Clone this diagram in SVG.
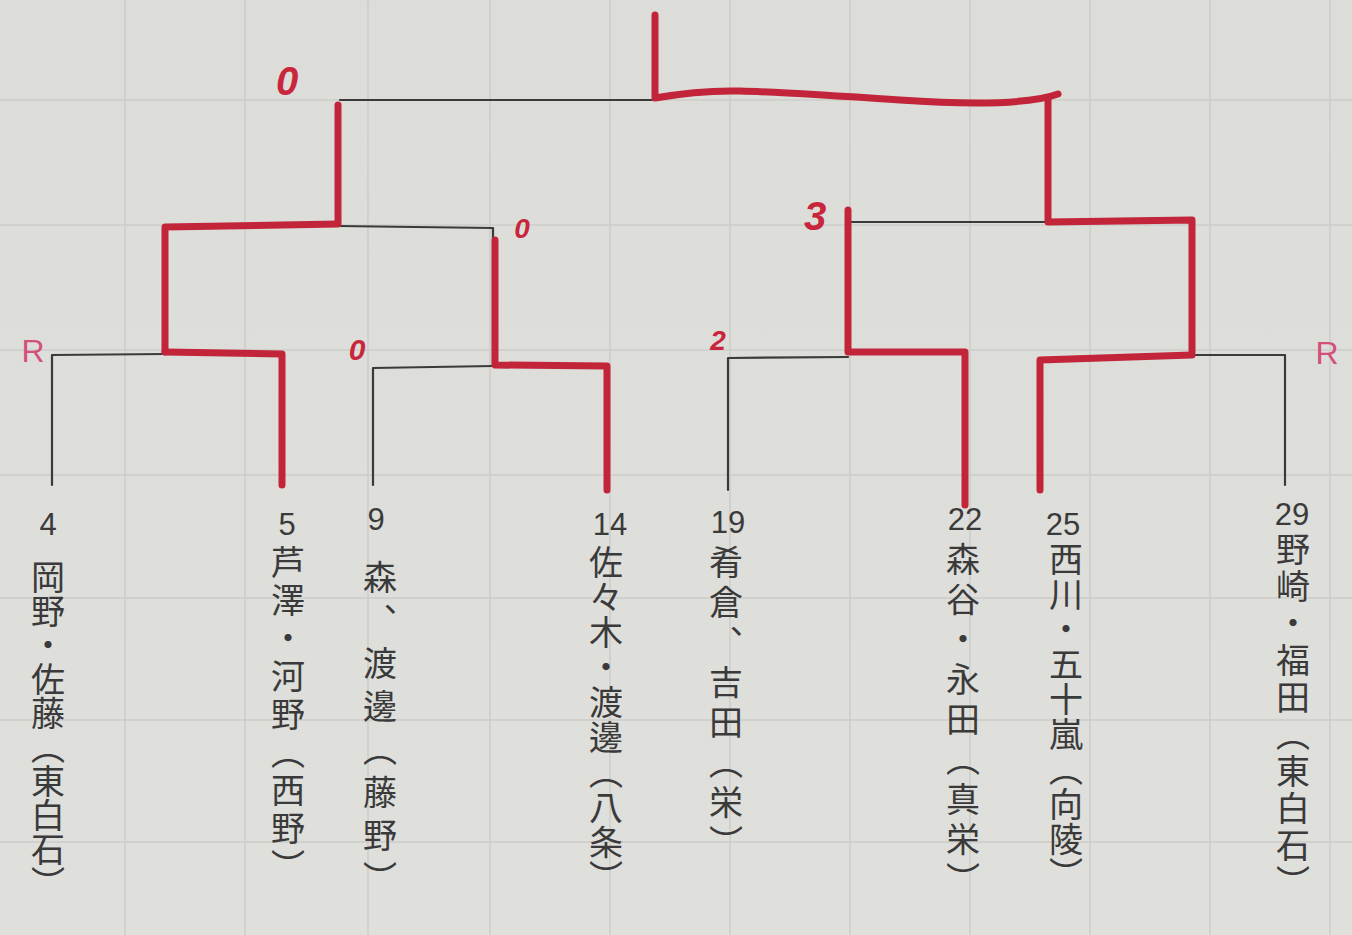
<svg xmlns="http://www.w3.org/2000/svg" width="1352" height="935" viewBox="0 0 1352 935">
<defs>
<linearGradient id="paper" x1="0" y1="0" x2="0" y2="1">
<stop offset="0" stop-color="#dcdcd9"/>
<stop offset="1" stop-color="#dfdfdc"/>
</linearGradient>
<style>
.grid{stroke:#cbcbc7;stroke-width:1.4;fill:none}
.blk{stroke:#3a3a3a;stroke-width:2.2;fill:none;stroke-linejoin:round;stroke-linecap:round}
.red{stroke:#c2243a;stroke-width:7;fill:none;stroke-linejoin:round;stroke-linecap:round}
.score{font-family:"Liberation Sans",sans-serif;font-weight:bold;font-style:italic;fill:#c8263c;text-anchor:middle}
.rlab{font-family:"Liberation Sans",sans-serif;fill:#d4507a;text-anchor:middle}
.num{font-family:"Liberation Sans",sans-serif;font-size:31px;fill:#3a3a3a;text-anchor:middle}
.name{font-family:"Noto Sans CJK JP","Noto Sans CJK SC",sans-serif;font-size:34px;fill:#3a3a3a;writing-mode:vertical-rl;text-orientation:mixed}
</style>
</defs>
<rect x="0" y="0" width="1352" height="935" fill="url(#paper)"/>
<g id="grid" class="grid">
<path d="M125,0V935M245,0V935M368,0V935M490,0V935M610,0V935M730,0V935M850,0V935M970,0V935M1090,0V935M1210,0V935M1330,0V935"/>
<path d="M0,100H1352M0,225H1352M0,350H1352M0,475H1352M0,598H1352M0,720H1352M0,842H1352"/>
</g>
<g id="connectors">
<path class="blk" d="M340,100 L655,100"/>
<path class="blk" d="M338,226 L493,228 L493,365"/>
<path class="blk" d="M52,485 L52,355 L165,354"/>
<path class="blk" d="M373,485 L373,368 L493,366"/>
<path class="blk" d="M848,222 L1048,222"/>
<path class="blk" d="M728,490 L728,358 L848,357"/>
<path class="blk" d="M1192,355 L1285,355 L1285,485"/>
<path class="red" d="M655,15 L655,98 Q700,90 740,91 T900,100 T1058,94"/>
<path class="red" d="M338,105 L338,222"/>
<path class="red" d="M165,352 L165,227 L338,224"/>
<path class="red" d="M165,352 L282,354 L282,485"/>
<path class="red" d="M495,240 L495,365 L607,366 L607,490"/>
<path class="red" d="M1048,100 L1048,222 L1192,220 L1192,352"/>
<path class="red" d="M848,210 L848,352 L965,352 L965,505"/>
<path class="red" d="M1192,355 L1040,360 L1040,490"/>
</g>
<g id="scores">
<text class="score" x="287" y="95" font-size="40">0</text>
<text class="score" x="522" y="238" font-size="28">0</text>
<text class="score" x="357" y="360" font-size="30">0</text>
<text class="score" x="718" y="350" font-size="28">2</text>
<text class="score" x="815" y="230" font-size="40">3</text>
<text class="rlab" x="33" y="362" font-size="32">R</text>
<text class="rlab" x="1327" y="364" font-size="32">R</text>
</g>
<g id="p4">
<text class="num" x="48" y="535">4</text>
<text class="name" x="48" y="560" letter-spacing="0">岡野・佐藤（東白石）</text>
</g>
<g id="p5">
<text class="num" x="287" y="535">5</text>
<text class="name" x="288" y="545" letter-spacing="4">芦澤・河野（西野）</text>
</g>
<g id="p9">
<text class="num" x="376" y="530">9</text>
<text class="name" x="380" y="560" letter-spacing="9">森、渡邊（藤野）</text>
</g>
<g id="p14">
<text class="num" x="610" y="535">14</text>
<text class="name" x="606" y="545" letter-spacing="1">佐々木・渡邊（八条）</text>
</g>
<g id="p19">
<text class="num" x="728" y="533">19</text>
<text class="name" x="726" y="545" letter-spacing="6">肴倉、吉田（栄）</text>
</g>
<g id="p22">
<text class="num" x="965" y="530">22</text>
<text class="name" x="963" y="542" letter-spacing="6">森谷・永田（真栄）</text>
</g>
<g id="p25">
<text class="num" x="1063" y="535">25</text>
<text class="name" x="1066" y="542" letter-spacing="1">西川・五十嵐（向陵）</text>
</g>
<g id="p29">
<text class="num" x="1292" y="525">29</text>
<text class="name" x="1293" y="532" letter-spacing="3">野崎・福田（東白石）</text>
</g>
</svg>
